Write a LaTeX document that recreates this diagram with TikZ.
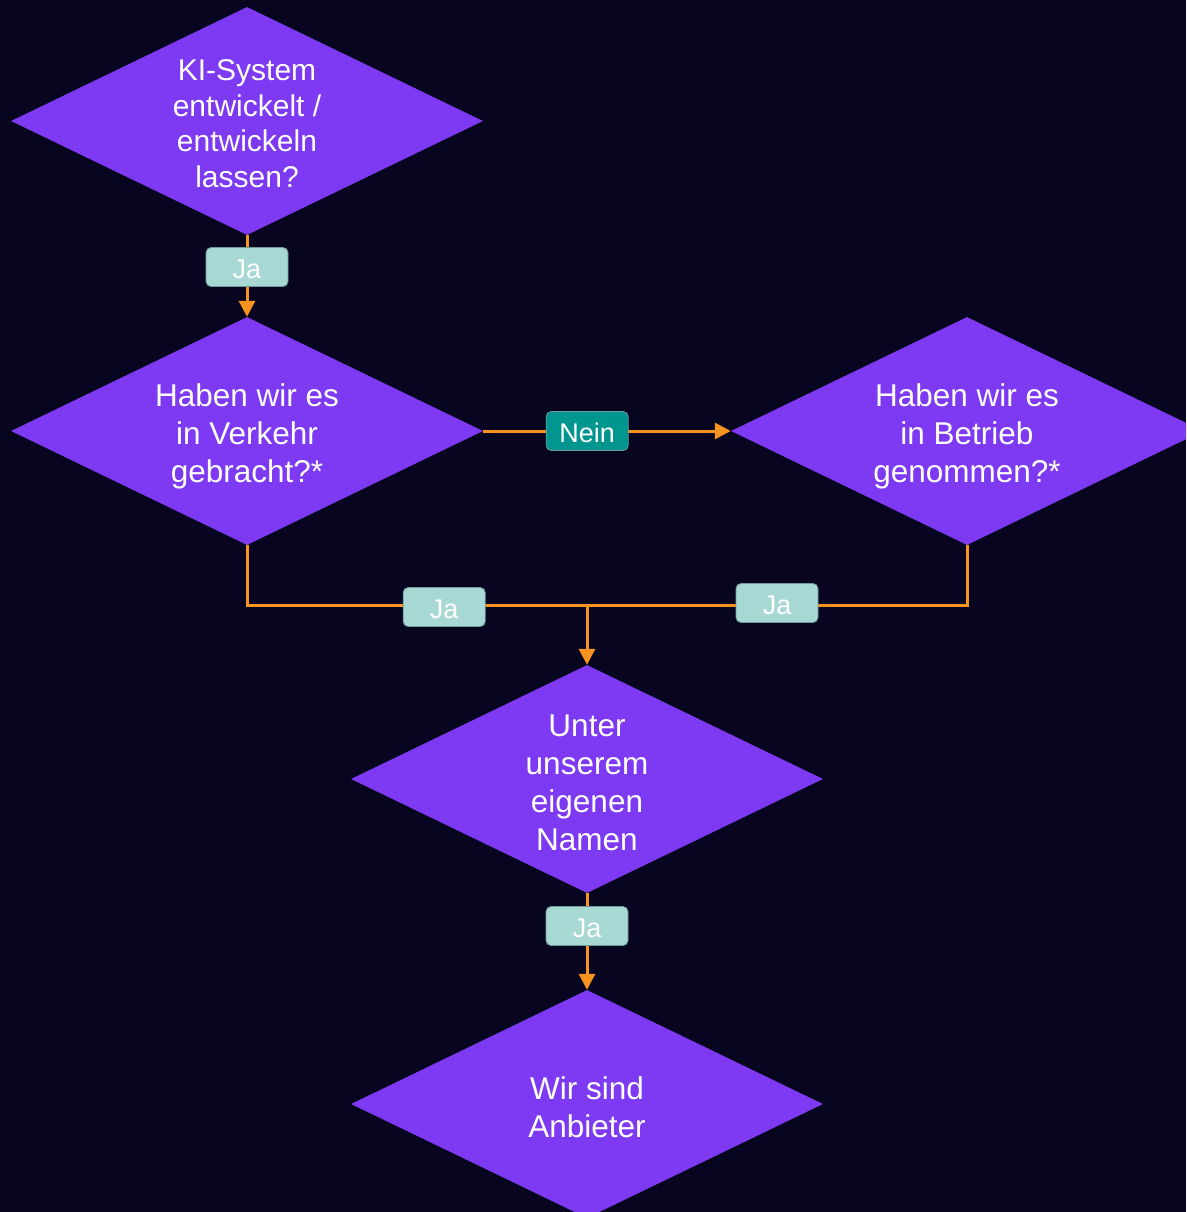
\documentclass[tikz,border=0pt]{standalone}
\usepackage{fontspec}
\setmainfont{Liberation Sans}
\usetikzlibrary{shapes.geometric,arrows.meta}
\definecolor{bg}{HTML}{07051F}
\definecolor{dia}{HTML}{7E3AF2}
\definecolor{edge}{HTML}{F7931E}
\definecolor{lab}{HTML}{A8D8D4}
\definecolor{labno}{HTML}{00968F}
\definecolor{labborder}{HTML}{6E9A9A}
\newcommand{\firstlift}[1]{\rule{0pt}{#1}}
\begin{document}
\begin{tikzpicture}[x=1pt,y=-1pt,
  decision/.style={diamond, fill=dia, draw=none, minimum width=472pt, minimum height=228pt,
    shape aspect=2.07, inner sep=0pt, text=white, align=center,
    font=\fontsize{31.5}{38}\selectfont},
  tag/.style={rounded corners=5pt, fill=lab, draw=labborder, line width=0.8pt,
    minimum width=82pt, minimum height=39pt, inner sep=0pt, text=white,
    text height=22pt, text depth=0pt,
    font=\fontsize{27}{30}\selectfont},
  tagno/.style={tag, fill=labno},
  link/.style={draw=edge, line width=3pt},
  arr/.style={link, -{Triangle[width=16pt,length=16pt]}}]
\clip (0,0) rectangle (1186,1212);
\fill[bg] (0,0) rectangle (1186,1212);

\node[decision, font=\fontsize{30}{35.5}\selectfont] (d1) at (247,121) {\firstlift{26pt}KI-System\\entwickelt /\\entwickeln\\lassen?};
\node[decision] (d2) at (247,431) {\firstlift{33pt}Haben wir es\\in Verkehr\\gebracht?*};
\node[decision] (d3) at (967,431) {\firstlift{33pt}Haben wir es\\in Betrieb\\genommen?*};
\node[decision] (d4) at (587,779) {\firstlift{29pt}Unter\\unserem\\eigenen\\Namen};
\node[decision] (d5) at (587,1104) {\firstlift{29pt}Wir sind\\Anbieter};
\coordinate (j) at (587,605);

\draw[arr] (d1.south) -- node[tag, pos=0.39] (l1) {Ja} (d2.north);
\draw[arr] (d2.east) -- node[tagno, pos=0.42] (l2) {Nein} (d3.west);
\draw[link] (d2.south) |- node[tag, pos=0.79, yshift=-2pt] (l3) {Ja} (j);
\draw[link] (d3.south) |- node[tag, pos=0.75, yshift=2pt] (l4) {Ja} (j);
\draw[arr] (j) -- (d4.north);
\draw[arr] (d4.south) -- node[tag, pos=0.34] (l5) {Ja} (d5.north);
\end{tikzpicture}
\end{document}
